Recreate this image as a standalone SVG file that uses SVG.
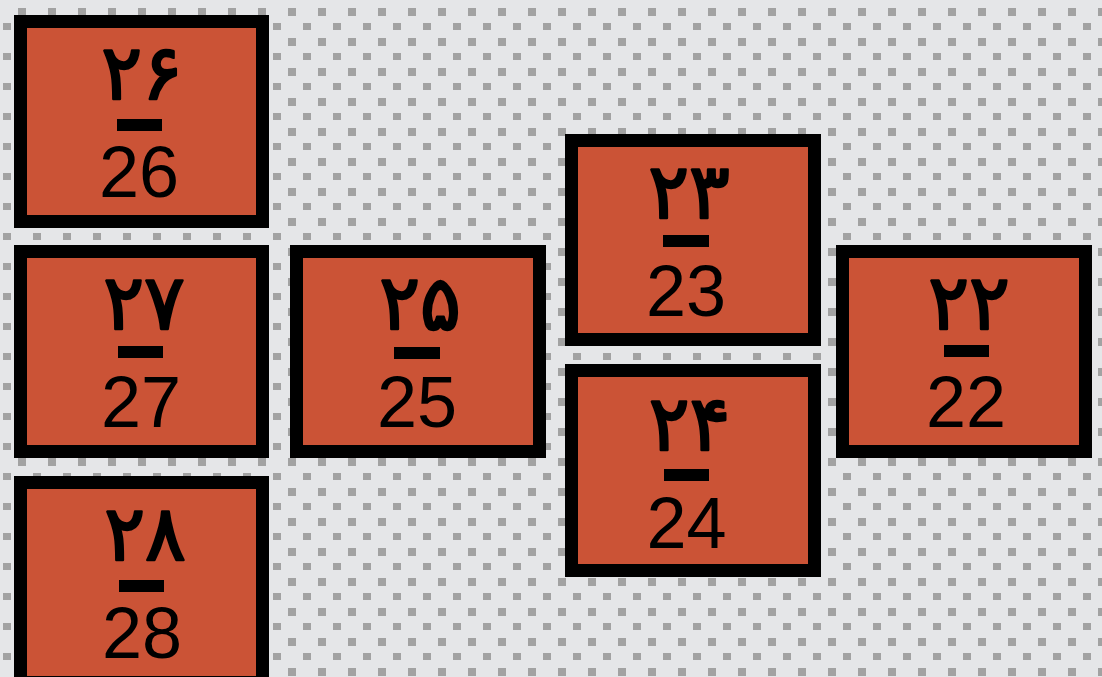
<svg xmlns="http://www.w3.org/2000/svg" width="1102" height="677" viewBox="0 0 1102 677">
<style>
.box{fill:#cb5336;stroke:#000;stroke-width:13}
.ar{font-family:"DejaVu Sans",sans-serif;font-weight:normal;font-size:76px;letter-spacing:6px;text-anchor:middle;fill:#000;stroke:#000;stroke-width:2.4px;stroke-linejoin:round}
.en{font-family:"Liberation Sans",Arial,sans-serif;font-size:72px;text-anchor:middle;fill:#000}
.bar{fill:#000}
</style>
<defs>
<filter id="soft" x="-10%" y="-10%" width="120%" height="120%"><feGaussianBlur stdDeviation="0.6"/></filter>
<pattern id="dots" x="0" y="0" width="30" height="30" patternUnits="userSpaceOnUse">
<rect x="18" y="8" width="8" height="8" fill="#a2a2a2"/>
<rect x="3" y="23" width="8" height="8" fill="#a2a2a2"/>
</pattern>
</defs>
<rect x="0" y="0" width="1102" height="677" fill="#e5e6e8"/>
<rect x="0" y="0" width="1102" height="677" fill="url(#dots)" filter="url(#soft)"/>
<g id="node-26" transform="translate(0,15)">
<rect class="box" x="20.5" y="6.5" width="242" height="200"/>
<text class="ar" x="142" y="84">۲۶</text>
<rect class="bar" x="117" y="104" width="45" height="12"/>
<text class="en" x="139" y="182">26</text>
</g>
<g id="node-27" transform="translate(0,245)">
<rect class="box" x="20.5" y="6.5" width="242" height="200"/>
<text class="ar" x="144" y="84">۲۷</text>
<rect class="bar" x="118" y="101" width="45" height="12"/>
<text class="en" x="141" y="182">27</text>
</g>
<g id="node-28" transform="translate(0,476)">
<rect class="box" x="20.5" y="6.5" width="242" height="200"/>
<text class="ar" x="145" y="84">۲۸</text>
<rect class="bar" x="119" y="104" width="45" height="12"/>
<text class="en" x="142" y="182">28</text>
</g>
<g id="node-25" transform="translate(0,245)">
<rect class="box" x="296.5" y="6.5" width="243" height="200"/>
<text class="ar" x="420" y="84">۲۵</text>
<rect class="bar" x="394" y="102" width="46" height="12"/>
<text class="en" x="417" y="182">25</text>
</g>
<g id="node-23" transform="translate(0,134)">
<rect class="box" x="571.5" y="6.5" width="243" height="199"/>
<text class="ar" x="689" y="84">۲۳</text>
<rect class="bar" x="663" y="101" width="46" height="12"/>
<text class="en" x="686" y="182">23</text>
</g>
<g id="node-24" transform="translate(0,364)">
<rect class="box" x="571.5" y="6.5" width="243" height="200"/>
<text class="ar" x="689.5" y="86">۲۴</text>
<rect class="bar" x="664" y="105" width="45" height="12"/>
<text class="en" x="686.5" y="184">24</text>
</g>
<g id="node-22" transform="translate(0,245)">
<rect class="box" x="842.5" y="6.5" width="243" height="200"/>
<text class="ar" x="969" y="84">۲۲</text>
<rect class="bar" x="944" y="100" width="45" height="12"/>
<text class="en" x="966" y="182">22</text>
</g>
<g id="connectors"></g>
</svg>
